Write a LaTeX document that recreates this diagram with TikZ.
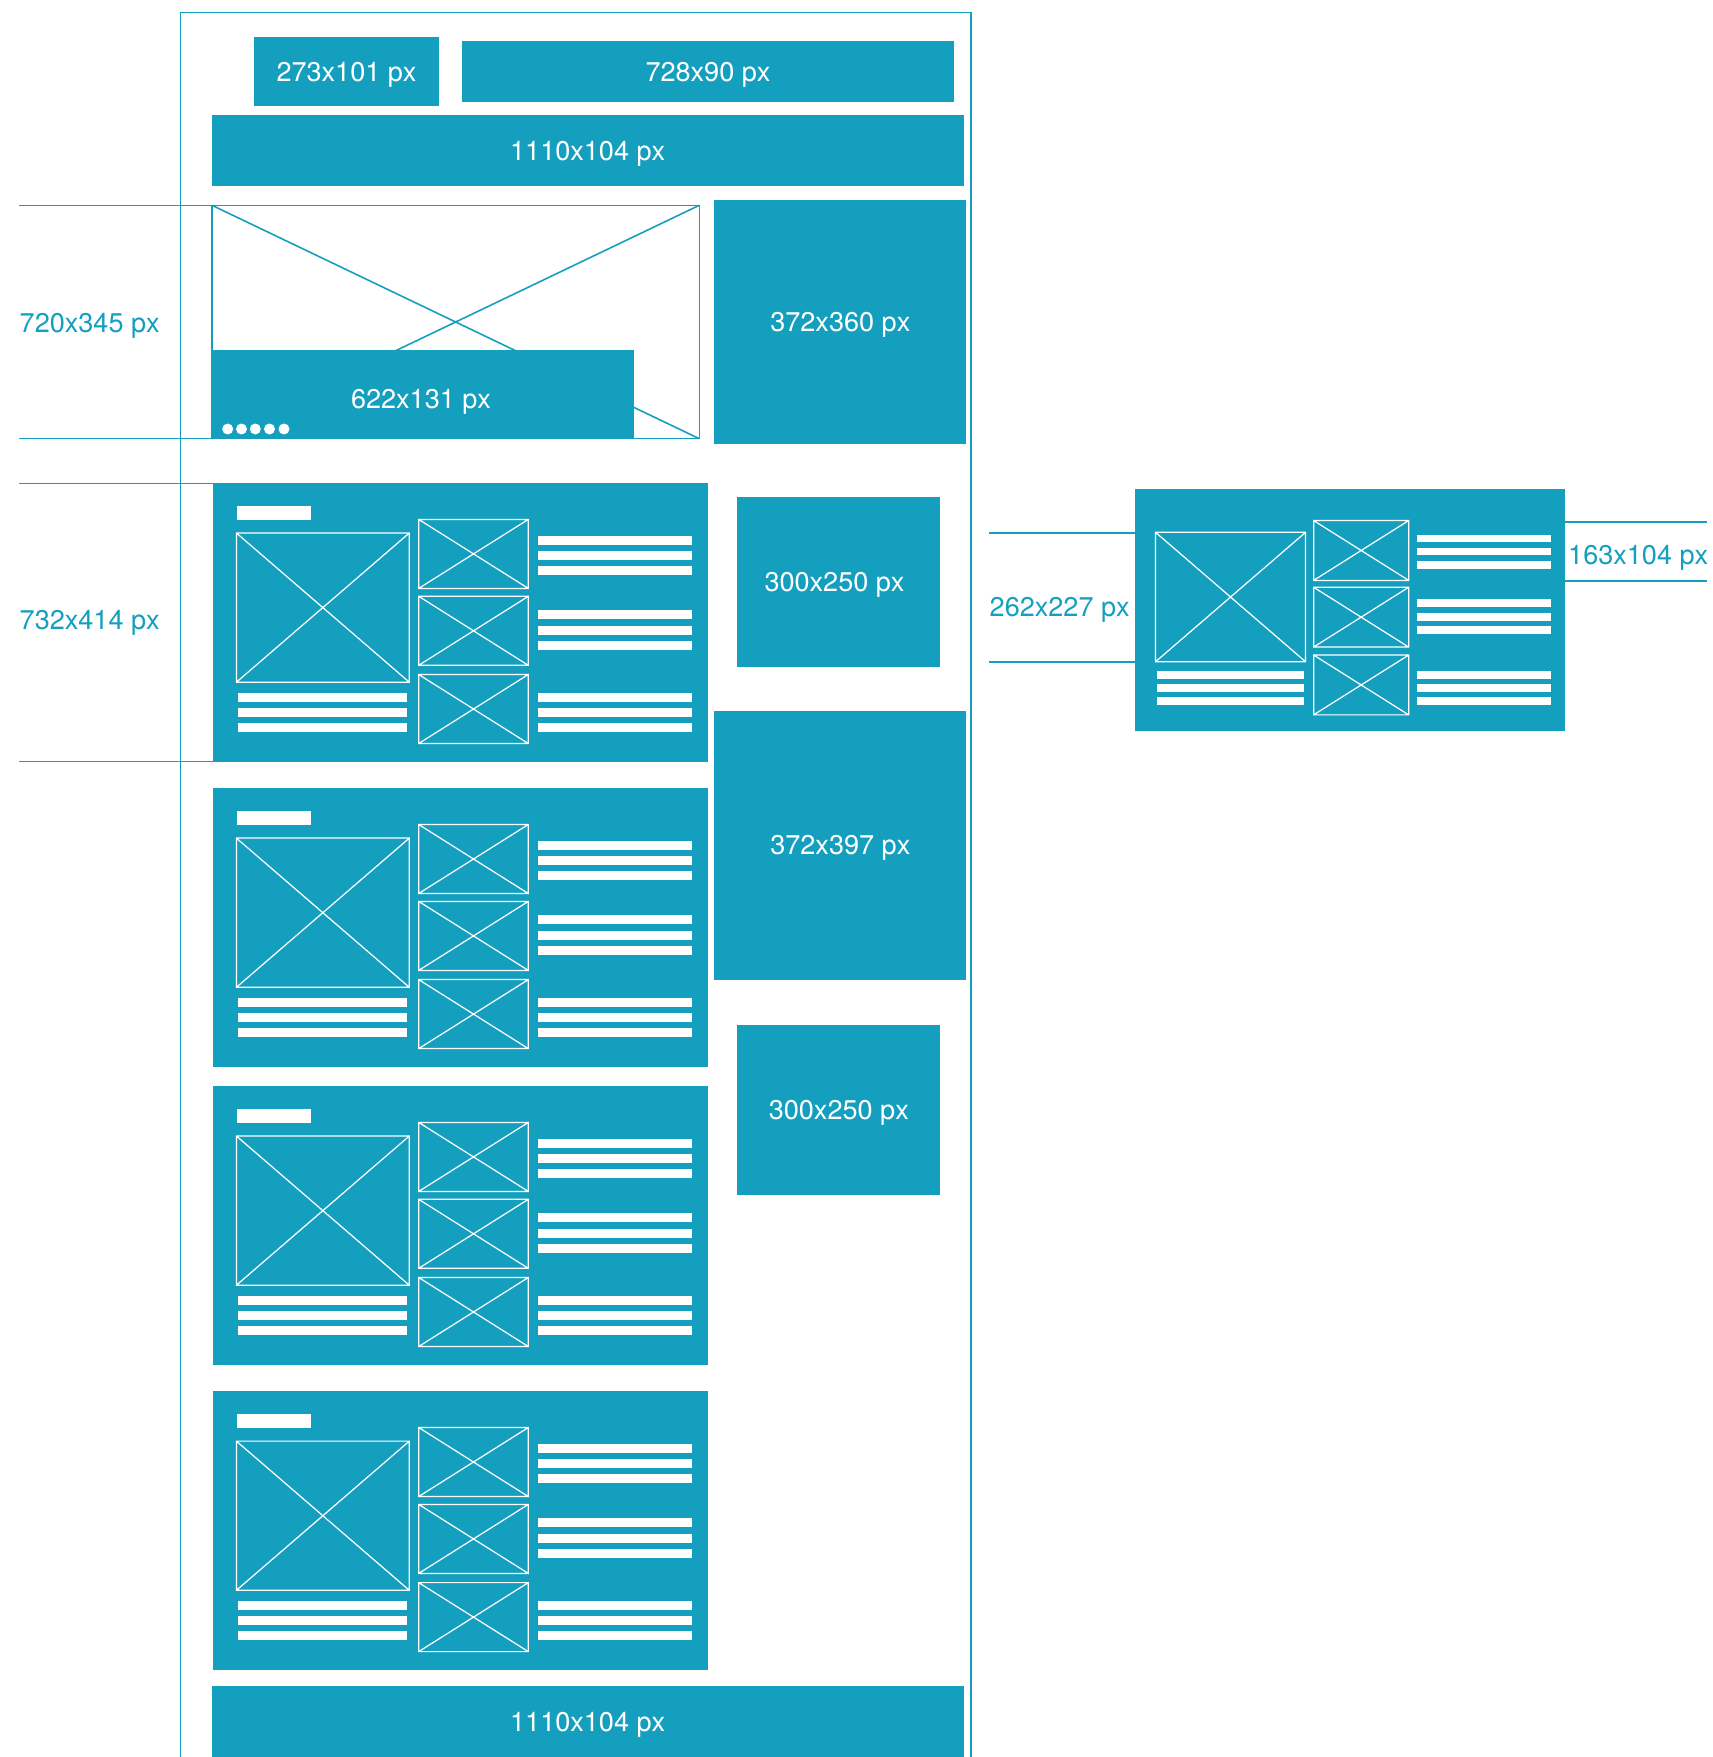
\documentclass[tikz,border=0pt]{standalone}
\usepackage{fontspec}
\setmainfont{TeX Gyre Heros}
\usetikzlibrary{positioning}
\definecolor{AdTeal}{RGB}{21,159,190}

\tikzset{
  adbox/.style={fill=AdTeal, text=white, inner sep=0pt, outer sep=0pt,
    font=\fontsize{7.7}{9}\selectfont, text height=5.5pt, text depth=0pt},
  sizelabel/.style={text=AdTeal, anchor=west, inner sep=0pt,
    font=\fontsize{7.7}{9}\selectfont, text height=5.5pt, text depth=0pt},
  guide/.style={draw=AdTeal, line width=0.45pt},
  phline/.style={draw=white, line width=0.35pt},
  bar/.style={fill=white}
}

% image placeholder: box with a cross
\newcommand{\phbox}[4]{\draw[phline] (#1,#2) rectangle (#3,#4) (#1,#2) -- (#3,#4) (#1,#4) -- (#3,#2);}

% article block: top-left x, y and scale
\newcommand{\articleblock}[3]{%
  \begin{scope}[shift={(#1,#2)}, scale=#3]
    \fill[AdTeal] (0,0) rectangle (495.3,279.3);
    \phbox{23.4}{50}{196.3}{199.2}
    \foreach \t in {36.4,113.3,191.5} {\phbox{205.7}{\t}{315.3}{\t+69}}
    \foreach \t in {210.1,225.2,240.2} {\fill[bar] (25,\t) rectangle (194.3,\t+8.6);}
    \foreach \t in {52.9,68,83.1,127,143.1,158.2,210.1,225.2,240.2}
      {\fill[bar] (325,\t) rectangle (479.3,\t+8.6);}
  \end{scope}}

\begin{document}
\begin{tikzpicture}[x=0.01cm, y=-0.01cm]
\useasboundingbox (0,0) rectangle (1713,1757);

% page frame
\draw[guide] (180.3,1757) -- (180.3,12.3) -- (970.7,12.3) -- (970.7,1757);

% header
\node[adbox, minimum width=1.85cm, minimum height=0.69cm] (logo) at (346.5,71.5) {273x101 px};
\node[adbox, minimum width=4.926cm, minimum height=0.61cm] (leader) at (708,71.5) {728x90 px};
\node[adbox, minimum width=7.513cm, minimum height=0.71cm] (billboard) at (587.7,150.5) {1110x104 px};

% slider
\draw[guide, fill=white] (212,205.3) rectangle (699.3,438.7);
\draw[guide] (212,205.3) -- (699.3,438.7) (699.3,205.3) -- (212,438.7);
\fill[AdTeal] (212,350) rectangle (634,438.7);
\node[adbox, fill=none] (caption) at (421,399) {622x131 px};
\foreach \d in {227.7,241.5,255.3,269.5,284}
  \fill[white] (\d,429) circle[radius=0.055cm];

% sidebar
\node[adbox, minimum width=2.52cm, minimum height=2.437cm] (rect1) at (840.3,321.9) {372x360 px};
\node[adbox, minimum width=2.03cm, minimum height=1.698cm] (mpu1) at (838.8,581.9) {};
\node[adbox, fill=none] (mpu1text) at (834.5,581.9) {300x250 px};
\node[adbox, minimum width=2.52cm, minimum height=2.687cm] (rect2) at (840.3,845.3) {372x397 px};
\node[adbox, minimum width=2.03cm, minimum height=1.697cm] (mpu2) at (838.8,1109.9) {300x250 px};

% article blocks
\foreach \y in {483,788.1,1086,1391.1} {
  \articleblock{213}{\y}{1}
  \fill[bar] (237,\y+23.1) rectangle (311.3,\y+36.8);
}

% footer
\node[adbox, minimum width=7.513cm, minimum height=0.71cm] (footer) at (587.7,1721.5) {1110x104 px};

% size guides
\draw[guide] (19,205.3) -- (212,205.3) (19,438.7) -- (212,438.7);
\draw[guide] (19,483.3) -- (213,483.3) (19,761.5) -- (213,761.5);
\node[sizelabel] (slidersize) at (19,323) {720x345 px};
\node[sizelabel] (blocksize) at (19,620) {732x414 px};

% widget
\articleblock{1135.3}{489}{0.867}
\draw[guide] (989,532.7) -- (1135.3,532.7) (989,662) -- (1135.3,662);
\draw[guide] (1564.3,521.7) -- (1707.3,521.7) (1564.3,580.7) -- (1707.3,580.7);
\node[sizelabel] (widgetsize) at (989,606.7) {262x227 px};
\node[sizelabel] (thumbsize) at (1567.5,555) {163x104 px};
\end{tikzpicture}
\end{document}
